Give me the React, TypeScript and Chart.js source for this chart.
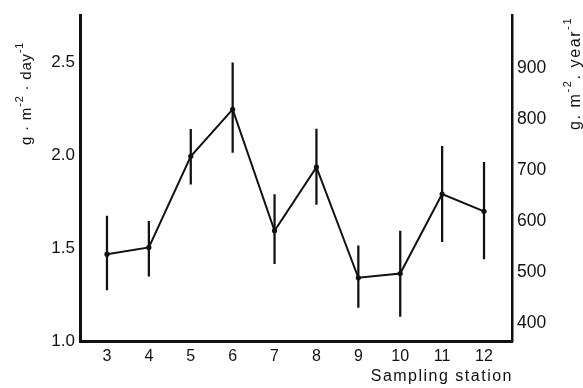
import { useEffect, useRef } from 'react';
import { Chart, registerables } from 'chart.js';

Chart.register(...registerables);

const stations = [3, 4, 5, 6, 7, 8, 9, 10, 11, 12];
const meanValues = [1.467, 1.503, 1.993, 2.245, 1.593, 1.935, 1.34, 1.363, 1.79, 1.697];
const lowValues = [1.274, 1.349, 1.843, 2.014, 1.416, 1.734, 1.181, 1.132, 1.534, 1.441];
const highValues = [1.672, 1.644, 2.138, 2.496, 1.787, 2.139, 1.512, 1.591, 2.046, 1.961];
const leftTicks = [1.0, 1.5, 2.0, 2.5];
const rightTicks = [400, 500, 600, 700, 800, 900];
const xTitle = 'Sampling station';
const DAYS_PER_YEAR = 365;
const LEFT_MIN = 1.0;
const LEFT_MAX = 2.75;

const FONT = '"Liberation Sans", Arial, Helvetica, sans-serif';
const INK = '#111111';

type Part = { t: string; sup?: boolean };

function drawRotated(ctx: CanvasRenderingContext2D, parts: Part[], x: number, y: number, size: number, spacing: number) {
  ctx.save();
  ctx.translate(x, y);
  ctx.rotate(-Math.PI / 2);
  ctx.fillStyle = INK;
  ctx.textBaseline = 'alphabetic';
  ctx.textAlign = 'left';
  (ctx as any).letterSpacing = spacing + 'px';
  let cx = 0;
  for (const p of parts) {
    const s = p.sup ? Math.round(size * 0.7) : size;
    ctx.font = `${s}px ${FONT}`;
    ctx.fillText(p.t, cx, p.sup ? -size * 0.55 : 0);
    cx += ctx.measureText(p.t).width;
  }
  ctx.restore();
}

const titlePlugin = {
  id: 'axisTitles',
  afterDraw(chart: any) {
    const ctx: CanvasRenderingContext2D = chart.ctx;
    drawRotated(
      ctx,
      [{ t: 'g · m' }, { t: '-2', sup: true }, { t: ' · day' }, { t: '-1', sup: true }],
      31,
      145,
      15,
      0.8
    );
    drawRotated(
      ctx,
      [{ t: 'g. m' }, { t: '-2', sup: true }, { t: '. year' }, { t: '-1', sup: true }],
      580,
      130,
      16,
      1.6
    );
    ctx.save();
    ctx.fillStyle = INK;
    ctx.font = `16px ${FONT}`;
    (ctx as any).letterSpacing = '1.5px';
    ctx.textAlign = 'right';
    ctx.textBaseline = 'middle';
    ctx.fillText(xTitle, chart.chartArea.right + 1, 377);
    ctx.restore();
  },
};

export default function App() {
  const ref = useRef<HTMLCanvasElement | null>(null);

  useEffect(() => {
    document.body.style.margin = '0';
    const canvas = ref.current;
    if (!canvas) return;
    const chart = new Chart(canvas, {
      type: 'line',
      data: {
        datasets: [
          {
            type: 'line',
            data: stations.map((s, i) => ({ x: s, y: meanValues[i] })),
            borderColor: INK,
            borderWidth: 2,
            pointRadius: 2.6,
            pointBackgroundColor: INK,
            pointBorderWidth: 0,
            tension: 0,
            yAxisID: 'y',
            xAxisID: 'x',
            order: 0,
          } as any,
          {
            type: 'bar',
            data: stations.map((s, i) => ({ x: s, y: [lowValues[i], highValues[i]] })),
            backgroundColor: INK,
            borderWidth: 0,
            barThickness: 1.6,
            yAxisID: 'y',
            xAxisID: 'x',
            order: 1,
          } as any,
        ],
      },
      options: {
        responsive: false,
        animation: false,
        events: [],
        layout: { padding: { top: 10, left: 0, right: 0, bottom: 0 } },
        plugins: { legend: { display: false }, tooltip: { enabled: false } },
        scales: {
          x: {
            type: 'linear',
            position: 'bottom',
            min: 2.356,
            max: 12.668,
            offset: false,
            grid: { display: false, drawTicks: false },
            border: { display: true, width: 3, color: INK },
            afterBuildTicks: (scale: any) => {
              scale.ticks = stations.map((v) => ({ value: v }));
            },
            afterFit: (scale: any) => {
              scale.height = 47;
            },
            ticks: {
              color: INK,
              font: { family: FONT, size: 16 },
              padding: 6,
              maxRotation: 0,
              autoSkip: false,
              callback: (v: any) => String(v),
            },
          },
          y: {
            type: 'linear',
            position: 'left',
            min: LEFT_MIN,
            max: LEFT_MAX,
            grid: { display: false, drawTicks: false },
            border: { display: true, width: 3, color: INK },
            afterBuildTicks: (scale: any) => {
              scale.ticks = leftTicks.map((v) => ({ value: v }));
            },
            afterFit: (scale: any) => {
              scale.width = 80;
            },
            ticks: {
              color: INK,
              font: { family: FONT, size: 17 },
              padding: 5,
              callback: (v: any) => Number(v).toFixed(1),
            },
          },
          y2: {
            type: 'linear',
            position: 'right',
            min: LEFT_MIN * DAYS_PER_YEAR,
            max: LEFT_MAX * DAYS_PER_YEAR,
            grid: { display: false, drawTicks: false },
            border: { display: true, width: 2.5, color: INK },
            afterBuildTicks: (scale: any) => {
              scale.ticks = rightTicks.map((v) => ({ value: v }));
            },
            afterFit: (scale: any) => {
              scale.width = 71;
            },
            ticks: {
              color: INK,
              font: { family: FONT, size: 17.5 },
              padding: 5,
              callback: (v: any) => String(v),
            },
          },
        },
      } as any,
      plugins: [titlePlugin],
    });
    return () => chart.destroy();
  }, []);

  return (
    <div style={{ position: 'fixed', left: 0, top: 0, width: 583, height: 388, background: '#fff' }}>
      <canvas ref={ref} width={583} height={388} style={{ display: 'block' }} />
    </div>
  );
}
